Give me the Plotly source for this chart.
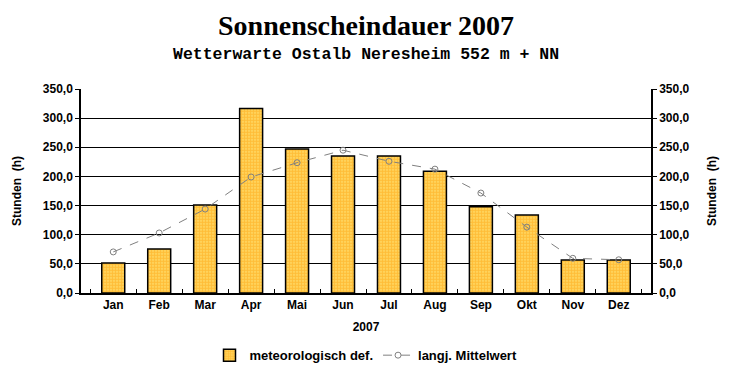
import plotly.graph_objects as go

months = ["Jan", "Feb", "Mar", "Apr", "Mai", "Jun", "Jul", "Aug", "Sep", "Okt", "Nov", "Dez"]
sonnenschein_2007 = [51.5, 75.5, 151.0, 316.5, 247.0, 235.0, 235.0, 209.0, 148.0, 134.0, 56.5, 56.5]
langj_mittel = [70.5, 103.0, 144.0, 199.0, 223.5, 245.0, 226.0, 212.5, 171.5, 113.0, 59.5, 57.0]
y_ticks = [0, 50, 100, 150, 200, 250, 300, 350]

font_b = dict(family="Liberation Sans, Arial, sans-serif", size=12, color="black", weight="bold")
font_leg = dict(family="Liberation Sans, Arial, sans-serif", size=13, color="black", weight="bold")

fig = go.Figure()
fig.add_trace(go.Bar(
    x=months, y=sonnenschein_2007, name="meteorologisch def.",
    marker=dict(color="#FFC040",
                line=dict(color="black", width=1.5),
                pattern=dict(shape=".", fgcolor="#FF9A00", bgcolor="#FFE070", size=3, solidity=0.7)),
    yaxis="y",
))
fig.add_trace(go.Scatter(
    x=months, y=langj_mittel, name="langj. Mittelwert", mode="lines+markers",
    line=dict(color="#808080", width=1, dash="dash"),
    marker=dict(symbol="circle-open", size=6, color="#808080", line=dict(width=1)),
    yaxis="y2",
))

fig.update_layout(
    width=724, height=372,
    paper_bgcolor="white", plot_bgcolor="white",
    margin=dict(l=73, r=81, t=81, b=87, autoexpand=False),
    separators=",.",
    bargap=0.5,
    showlegend=True,
    legend=dict(orientation="h", x=0.5, xanchor="center", y=-0.305, yanchor="middle",
                font=font_leg, itemwidth=30, tracegroupgap=0),
    xaxis=dict(
        type="category", showline=True, linecolor="black", linewidth=1.5,
        ticks="inside", ticklen=4, tickcolor="black", tickson="boundaries",
        tickfont=font_b, showgrid=False, automargin=False,
        title=dict(text="2007", font=font_b, standoff=11),
    ),
    yaxis=dict(
        range=[0, 350], tickvals=y_ticks, tickformat=".1f",
        showline=True, linecolor="black", linewidth=1.5,
        ticks="outside", ticklen=4, tickcolor="black",
        showgrid=True, gridcolor="black", gridwidth=1.2, zeroline=False,
        tickfont=font_b, automargin=False,
        title=dict(text="Stunden  (h)", font=font_b, standoff=19),
    ),
    yaxis2=dict(
        range=[0, 350], tickvals=y_ticks, tickformat=".1f", overlaying="y", side="right",
        showline=True, linecolor="black", linewidth=1.5,
        ticks="outside", ticklen=4, tickcolor="black",
        showgrid=False, zeroline=False, tickfont=font_b, automargin=False,
        title=dict(text="Stunden  (h)", font=font_b, standoff=19),
    ),
    annotations=[
        dict(text="Sonnenscheindauer 2007", xref="paper", yref="paper", x=0.5, y=1.0,
             yshift=64, xanchor="center", yanchor="middle", showarrow=False,
             font=dict(family="Liberation Serif, Times New Roman, serif", size=28,
                       color="black", weight="bold")),
        dict(text="Wetterwarte Ostalb Neresheim 552 m + NN", xref="paper", yref="paper",
             x=0.5, y=1.0, yshift=35, xanchor="center", yanchor="middle", showarrow=False,
             font=dict(family="Liberation Mono, Courier New, monospace", size=16.5,
                       color="black", weight="bold")),
    ],
)

fig.write_html("out.html")
